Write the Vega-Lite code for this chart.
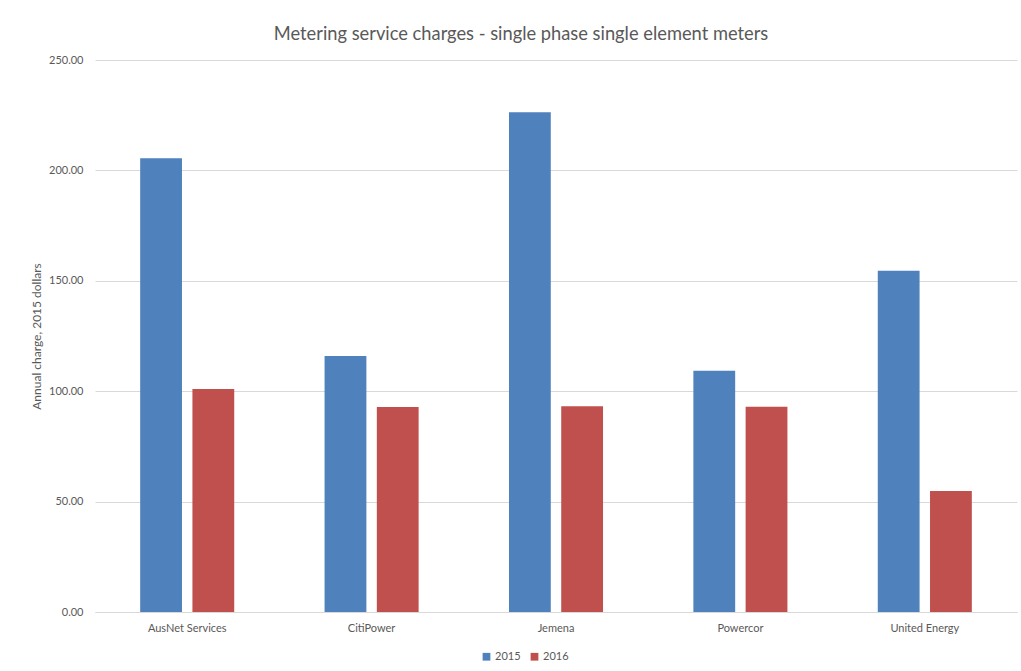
{
  "$schema": "https://vega.github.io/schema/vega-lite/v6.json",
  "width": 922,
  "height": 552,
  "autosize": {"type": "none"},
  "padding": {"left": 95, "top": 60, "right": 4, "bottom": 59},
  "background": "white",
  "title": {
    "text": "Metering service charges - single phase single element meters",
    "fontSize": 18.3,
    "font": "Lato",
    "fontWeight": "normal",
    "color": "#595959",
    "anchor": "middle",
    "dx": -35,
    "offset": 10
  },
  "data": {
    "values": [
      {"business": "AusNet Services", "year": "2015", "charge": 205.5},
      {"business": "AusNet Services", "year": "2016", "charge": 101.0},
      {"business": "CitiPower", "year": "2015", "charge": 115.9},
      {"business": "CitiPower", "year": "2016", "charge": 92.9},
      {"business": "Jemena", "year": "2015", "charge": 226.3},
      {"business": "Jemena", "year": "2016", "charge": 93.2},
      {"business": "Powercor", "year": "2015", "charge": 109.3},
      {"business": "Powercor", "year": "2016", "charge": 93.0},
      {"business": "United Energy", "year": "2015", "charge": 154.5},
      {"business": "United Energy", "year": "2016", "charge": 54.8}
    ]
  },
  "mark": {"type": "bar"},
  "encoding": {
    "x": {
      "field": "business",
      "type": "nominal",
      "sort": null,
      "scale": {"paddingInner": 0.49, "paddingOuter": 0.245},
      "axis": {
        "title": null,
        "labelAngle": 0,
        "labelFont": "Lato",
        "labelFontSize": 11,
        "labelColor": "#595959",
        "labelPadding": 10,
        "ticks": false,
        "domainColor": "#d9d9d9",
        "grid": false
      }
    },
    "xOffset": {
      "field": "year",
      "type": "nominal",
      "scale": {"paddingInner": 0.2, "paddingOuter": 0}
    },
    "y": {
      "field": "charge",
      "type": "quantitative",
      "scale": {"domain": [0, 250], "nice": false},
      "axis": {
        "title": "Annual charge, 2015 dollars",
        "titleFont": "Lato",
        "titleFontSize": 12,
        "titleFontWeight": "normal",
        "titleColor": "#595959",
        "titlePadding": 5,
        "values": [0, 50, 100, 150, 200, 250],
        "format": ".2f",
        "labelFont": "Lato",
        "labelFontSize": 11,
        "labelColor": "#595959",
        "labelPadding": 12,
        "ticks": false,
        "domain": false,
        "gridColor": "#d9d9d9"
      }
    },
    "color": {
      "field": "year",
      "type": "nominal",
      "scale": {"domain": ["2015", "2016"], "range": ["#4f81bd", "#c0504d"]},
      "legend": {
        "title": null,
        "orient": "none",
        "direction": "horizontal",
        "legendX": 386,
        "legendY": 591,
        "symbolType": "square",
        "symbolSize": 60,
        "symbolStrokeWidth": 0,
        "labelFont": "Lato",
        "labelFontSize": 11,
        "labelColor": "#595959",
        "labelOffset": 3,
        "columnPadding": 8
      }
    }
  },
  "config": {"view": {"stroke": null}}
}
